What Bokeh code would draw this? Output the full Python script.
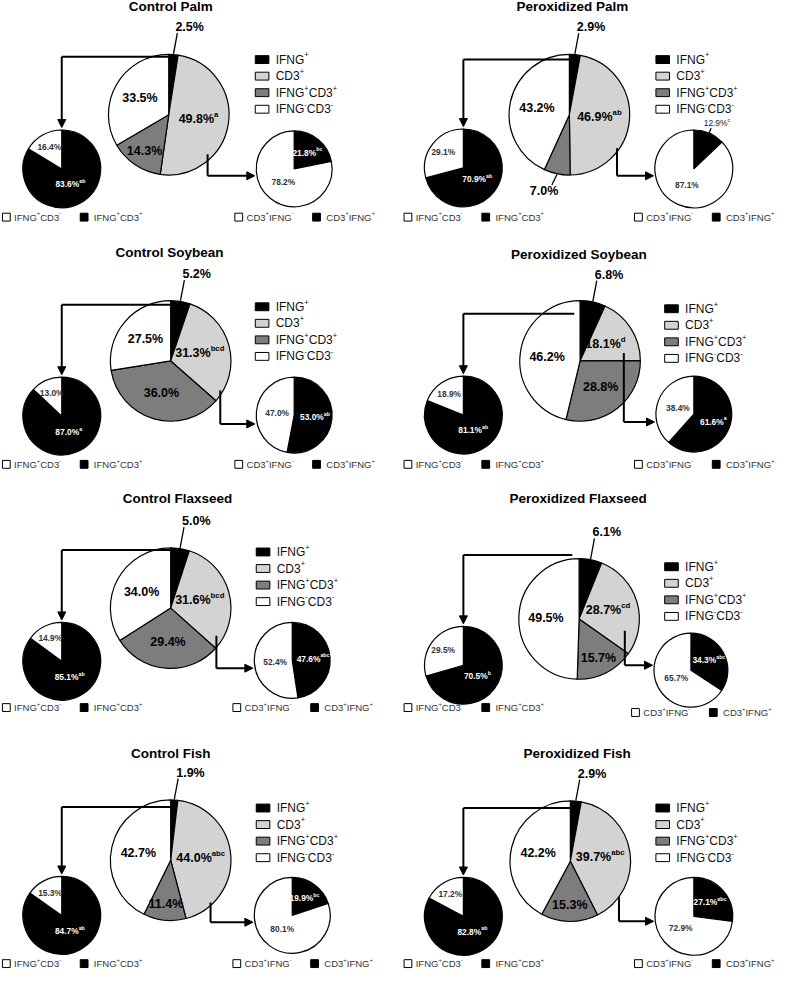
import math
from bokeh.plotting import figure
from bokeh.models import Range1d, ColumnDataSource, Arrow, NormalHead
from bokeh.core.properties import value
from bokeh.embed import file_html
from bokeh.resources import INLINE

# ---------------- data ----------------
PANELS = ["Control Palm", "Peroxidized Palm", "Control Soybean", "Peroxidized Soybean",
          "Control Flaxseed", "Peroxidized Flaxseed", "Control Fish", "Peroxidized Fish"]

MAIN_CATEGORIES = ["IFNG⁺", "CD3⁺", "IFNG⁺CD3⁺", "IFNG⁻CD3⁻"]
IFNG_POS = [2.5, 2.9, 5.2, 6.8, 5.0, 6.1, 1.9, 2.9]
CD3_POS = [49.8, 46.9, 31.3, 18.1, 31.6, 28.7, 44.0, 39.7]
CD3_POS_LETTERS = ["a", "ab", "bcd", "d", "bcd", "cd", "abc", "abc"]
DOUBLE_POS = [14.3, 7.0, 36.0, 28.8, 29.4, 15.7, 11.4, 15.3]
DOUBLE_NEG = [33.5, 43.2, 27.5, 46.2, 34.0, 49.5, 42.7, 42.2]

LEFT_CATEGORIES = ["IFNG⁺CD3⁻", "IFNG⁺CD3⁺"]
IFNG_CD3_NEG = [16.4, 29.1, 13.0, 18.9, 14.9, 29.5, 15.3, 17.2]
IFNG_CD3_POS = [83.6, 70.9, 87.0, 81.1, 85.1, 70.5, 84.7, 82.8]
IFNG_CD3_POS_LETTERS = ["ab", "ab", "a", "ab", "ab", "b", "ab", "ab"]

RIGHT_CATEGORIES = ["CD3⁺IFNG⁻", "CD3⁺IFNG⁺"]
CD3_IFNG_NEG = [78.2, 87.1, 47.0, 38.4, 52.4, 65.7, 80.1, 72.9]
CD3_IFNG_POS = [21.8, 12.9, 53.0, 61.6, 47.6, 34.3, 19.9, 27.1]
CD3_IFNG_POS_LETTERS = ["bc", "c", "ab", "a", "abc", "abc", "bc", "abc"]

# ---------------- layout (page-pixel coordinates) ----------------
LAYOUT = [
    dict(title=(175, 8), main=(173, 118), left=(63, 173), right=(302, 173), rr=39, leg=(262, 62),
         botL=222, botR=222, larr=(175, 59), rarr=(213, 158, 180)),
    dict(title=(588, 8), main=(585, 118), left=(476, 172), right=(713, 173), rr=40, leg=(674, 62),
         botL=222, botR=222, larr=(588, 62), rarr=(634, 152, 180)),
    dict(title=(173, 258), main=(175, 368), left=(63, 424), right=(302, 423), rr=39, leg=(262, 313),
         botL=473, botR=473, larr=(175, 311), rarr=(226, 398, 432)),
    dict(title=(594, 260), main=(596, 368), left=(476, 423), right=(713, 422), rr=39, leg=(683, 315),
         botL=473, botR=473, larr=(590, 320), rarr=(641, 360, 430)),
    dict(title=(182, 508), main=(175, 619), left=(63, 673), right=(300, 672), rr=39, leg=(263, 562),
         botL=720, botR=720, larr=(175, 560), rarr=(222, 647, 680)),
    dict(title=(594, 508), main=(595, 630), left=(476, 677), right=(710, 682), rr=38, leg=(683, 577),
         botL=720, botR=725, larr=(588, 565), rarr=(642, 642, 677)),
    dict(title=(175, 767), main=(175, 875), left=(63, 931), right=(300, 931), rr=39, leg=(263, 822),
         botL=980, botR=980, larr=(175, 821), rarr=(216, 918, 938)),
    dict(title=(593, 767), main=(586, 876), left=(476, 932), right=(713, 932), rr=40, leg=(674, 822),
         botL=980, botR=980, larr=(588, 822), rarr=(636, 912, 937)),
]
R_MAIN = 62
R_LEFT = 40
MAIN_COLORS = ["#000000", "#d3d3d3", "#7d7d7d", "#ffffff"]
FONT = "Liberation Sans"

W, H = 776, 971
X0, X1 = 0, 798
Y0, Y1 = 2, 988
DU = (X1 - X0) / W

W_REG = {' ': 278, '%': 889, '+': 584, '-': 333, '.': 278, 'C': 722, 'D': 722, 'F': 611, 'G': 778,
         'I': 278, 'N': 722, 'P': 667, 'a': 556, 'b': 556, 'c': 500, 'd': 556, 'e': 556, 'h': 556,
         'i': 222, 'k': 500, 'l': 222, 'm': 833, 'n': 556, 'o': 556, 'r': 333, 's': 500, 't': 278,
         'x': 500, 'y': 500, 'z': 500}
W_BOLD = {' ': 278, '%': 889, '+': 584, '-': 333, '.': 278, 'C': 722, 'D': 722, 'F': 611, 'G': 778,
          'I': 278, 'N': 722, 'P': 667, 'a': 556, 'b': 611, 'c': 556, 'd': 611, 'e': 556, 'h': 611,
          'i': 278, 'k': 556, 'l': 278, 'm': 889, 'n': 611, 'o': 611, 'r': 389, 's': 556, 't': 333,
          'x': 556, 'y': 556, 'z': 500}

buckets = {}


def put(x, y, s, size, bold, color):
    key = (round(size, 2), bold, color)
    b = buckets.setdefault(key, {"x": [], "y": [], "text": []})
    b["x"].append(x)
    b["y"].append(y)
    b["text"].append(s)


def twidth(s, size, bold):
    tbl = W_BOLD if bold else W_REG
    return sum(tbl.get(c, 556) for c in s) * size / 1000.0 * DU


def rich(x, y, segments, size, bold=False, color="black", align="left"):
    ss = size * 0.62
    total = sum(twidth(t, ss if sup else size, bold) for t, sup in segments)
    if align == "center":
        x0 = x - total / 2
    elif align == "right":
        x0 = x - total
    else:
        x0 = x
    for t, sup in segments:
        if not t:
            continue
        if sup:
            put(x0, y - size * 0.38 * DU, t, ss, bold, color)
            x0 += twidth(t, ss, bold)
        else:
            put(x0, y, t, size, bold, color)
            x0 += twidth(t, size, bold)


def parse(label):
    segs = []
    for ch in label:
        if ch in "⁺⁻":
            segs.append(("+" if ch == "⁺" else "-", True))
        else:
            if segs and not segs[-1][1]:
                segs[-1] = (segs[-1][0] + ch, False)
            else:
                segs.append((ch, False))
    return segs


p = figure(width=W, height=H, x_range=Range1d(X0, X1), y_range=Range1d(Y1, Y0),
           output_backend="svg", toolbar_location=None, min_border=0,
           x_axis_type=None, y_axis_type=None)
p.grid.visible = False
p.outline_line_color = None

wedges = {"x": [], "y": [], "r": [], "sa": [], "ea": [], "c": []}
leaders = {"xs": [], "ys": []}
arrow_lines = {"xs": [], "ys": []}
arrows = {"x0": [], "y0": [], "x1": [], "y1": []}
rects = {"x": [], "y": [], "w": [], "h": [], "c": []}


def pie(cx, cy, r, values, colors):
    total = float(sum(values))
    cum = 0.0
    out = []
    for v, col in zip(values, colors):
        a0 = cum / total
        a1 = (cum + v) / total
        cum += v
        wedges["x"].append(cx)
        wedges["y"].append(cy)
        wedges["r"].append(r)
        wedges["sa"].append(math.pi / 2 - 2 * math.pi * a0)
        wedges["ea"].append(math.pi / 2 - 2 * math.pi * a1)
        wedges["c"].append(col)
        m = (a0 + a1) / 2 * 2 * math.pi
        out.append((math.sin(m), -math.cos(m)))
    return out


for i, name in enumerate(PANELS):
    L = LAYOUT[i]
    rich(L["title"][0], L["title"][1], [(name, False)], 13.5, True, "black", "center")

    # main pie
    cx, cy = L["main"]
    vals = [IFNG_POS[i], CD3_POS[i], DOUBLE_POS[i], DOUBLE_NEG[i]]
    letters = ["", CD3_POS_LETTERS[i], "", ""]
    dirs = pie(cx, cy, R_MAIN, vals, MAIN_COLORS)
    for j, (v, (dx, dy)) in enumerate(zip(vals, dirs)):
        segs = [(f"{v:.1f}%", False), (letters[j], True)]
        if v < 8:
            sx, sy = cx + R_MAIN * dx, cy + R_MAIN * dy
            if dy < 0:
                ex, ey = sx + 4, sy - 21
                leaders["xs"].append([sx, ex]); leaders["ys"].append([sy, ey])
                rich(ex - 2, ey - 6, segs, 12.5, True, "black", "left")
            else:
                ex, ey = sx + 11 * dx - 3, sy + 11 * dy
                leaders["xs"].append([sx, ex]); leaders["ys"].append([sy, ey])
                rich(ex - 8, ey + 6, segs, 12.5, True, "black", "center")
        else:
            if j == 1:
                f = 0.5
            elif j == 2:
                f = 0.55 if v > 20 else 0.72
            else:
                f = 0.55
            rich(cx + f * R_MAIN * dx, cy + f * R_MAIN * dy, segs, 12.5, True, "black", "center")

    # main legend
    lx, ly = L["leg"]
    for k, cat in enumerate(MAIN_CATEGORIES):
        yy = ly + k * 16.8
        rects["x"].append(lx + 7); rects["y"].append(yy)
        rects["w"].append(14); rects["h"].append(8); rects["c"].append(MAIN_COLORS[k])
        rich(lx + 21, yy, parse(cat), 12, False, "#111111", "left")

    # left small pie (black slice first from 12 o'clock)
    lcx, lcy = L["left"]
    lvals = [IFNG_CD3_POS[i], IFNG_CD3_NEG[i]]
    lletters = [IFNG_CD3_POS_LETTERS[i], ""]
    ldirs = pie(lcx, lcy, R_LEFT, lvals, ["#000000", "#ffffff"])
    for j, (v, (dx, dy)) in enumerate(zip(lvals, ldirs)):
        segs = [(f"{v:.1f}%", False), (lletters[j], True)]
        f = 0.45 if j == 0 else 0.65
        col = "white" if j == 0 else "#333333"
        rich(lcx + f * R_LEFT * dx, lcy + f * R_LEFT * dy, segs, 8.4, True, col, "center")

    # right small pie
    rcx, rcy = L["right"]
    rr = L["rr"]
    rvals = [CD3_IFNG_POS[i], CD3_IFNG_NEG[i]]
    rletters = [CD3_IFNG_POS_LETTERS[i], ""]
    rdirs = pie(rcx, rcy, rr, rvals, ["#000000", "#ffffff"])
    for j, (v, (dx, dy)) in enumerate(zip(rvals, rdirs)):
        segs = [(f"{v:.1f}%", False), (rletters[j], True)]
        if v < 13:
            sx, sy = rcx + rr * dx, rcy + rr * dy
            ex, ey = sx + 5 * dx, sy + 5 * dy
            leaders["xs"].append([sx, ex]); leaders["ys"].append([sy, ey])
            rich(ex + 6, ey - 5, segs, 8.4, False, "#222222", "center")
        else:
            f = 0.55 if j == 0 else 0.45
            col = "white" if j == 0 else "#333333"
            rich(rcx + f * rr * dx, rcy + f * rr * dy, segs, 8.4, True, col, "center")

    # bottom legends
    for (pcx, by, cats) in [(lcx, L["botL"], LEFT_CATEGORIES), (rcx, L["botR"], RIGHT_CATEGORIES)]:
        for k, (off, fill) in enumerate([(-61, "#ffffff"), (19, "#000000")]):
            sqx = pcx + off
            rects["x"].append(sqx + 4); rects["y"].append(by)
            rects["w"].append(8); rects["h"].append(8); rects["c"].append(fill)
            rich(sqx + (12 if k == 0 else 14), by, parse(cats[k]), 9.5, False, "#333333", "left")

    # arrows
    sx, ay = L["larr"]
    arrow_lines["xs"].append([sx, lcx]); arrow_lines["ys"].append([ay, ay])
    arrows["x0"].append(lcx); arrows["y0"].append(ay)
    arrows["x1"].append(lcx); arrows["y1"].append(lcy - R_LEFT - 2)
    rx, ry0, ry1 = L["rarr"]
    arrow_lines["xs"].append([rx, rx]); arrow_lines["ys"].append([ry0, ry1])
    arrows["x0"].append(rx); arrows["y0"].append(ry1)
    arrows["x1"].append(rcx - rr - 1.5); arrows["y1"].append(ry1)

p.wedge(x="x", y="y", radius="r", start_angle="sa", end_angle="ea", direction="clock",
        fill_color="c", line_color="black", line_width=1.2, source=ColumnDataSource(wedges))
p.multi_line(xs="xs", ys="ys", line_color="black", line_width=1.3, source=ColumnDataSource(leaders))
p.multi_line(xs="xs", ys="ys", line_color="black", line_width=2, source=ColumnDataSource(arrow_lines))
p.rect(x="x", y="y", width="w", height="h", fill_color="c", line_color="black", line_width=1,
       source=ColumnDataSource(rects))
p.add_layout(Arrow(end=NormalHead(size=8, fill_color="black", line_color="black", line_width=1),
                   x_start="x0", y_start="y0", x_end="x1", y_end="y1", line_width=2,
                   line_color="black", source=ColumnDataSource(arrows)))

for (size, bold, color), b in buckets.items():
    p.text(x=b["x"], y=b["y"], text=b["text"], text_font=value(FONT),
           text_font_size=f"{size}px", text_font_style="bold" if bold else "normal",
           text_color=color, text_align="left", text_baseline="middle")

open("out.html", "w").write(file_html(p, INLINE))
